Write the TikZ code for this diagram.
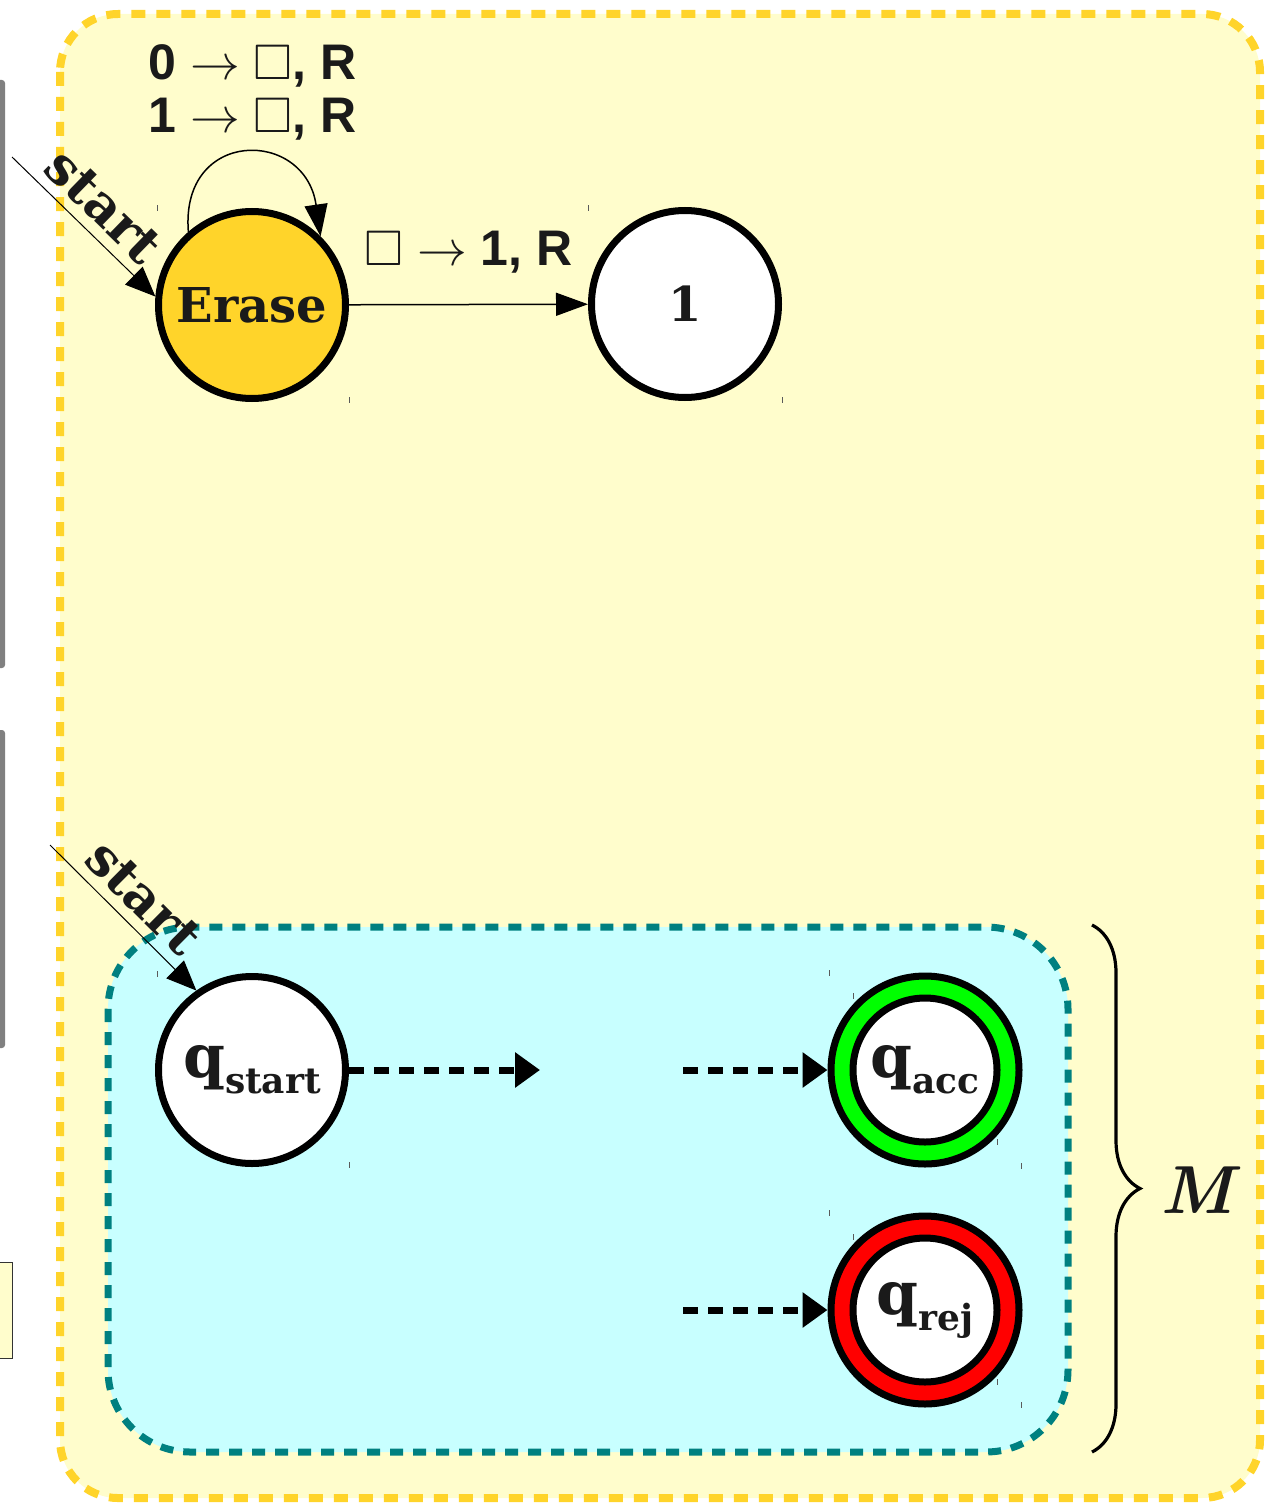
\documentclass[tikz,border=0pt]{standalone}
\usepackage{amssymb}
\usepackage{fontspec}
\setmainfont{DejaVu Serif}
\newfontfamily\labfont{Liberation Sans}
\newfontfamily\lmfont{Latin Modern Roman}
\usetikzlibrary{arrows.meta,decorations.pathreplacing}
\definecolor{bgyellow}{RGB}{255,253,204}
\definecolor{goldc}{RGB}{255,212,42}
\definecolor{cyanfill}{RGB}{200,255,255}
\definecolor{tealc}{RGB}{0,128,128}
\definecolor{inkc}{RGB}{26,26,26}
\definecolor{barc}{RGB}{128,128,128}
\definecolor{tickc}{RGB}{90,90,90}
\tikzset{
  statebox/.style={circle, draw=black, line width=3.5pt, minimum size=93.5pt, inner sep=0pt,
    text=inkc, font=\bfseries\fontsize{24}{24}\selectfont},
  innerbox/.style={statebox, fill=white, minimum size=72pt},
  thinarrow/.style={draw=black, line width=0.75pt, -{Triangle[length=16pt,width=11.5pt]}},
  startarrow/.style={draw=black, line width=0.5pt, -{Triangle[length=15pt,width=12.5pt]}},
  thickdash/.style={draw=black, line width=3.5pt, dash pattern=on 7.5pt off 5pt,
    -{Triangle[length=12.5pt,width=17pt]}},
  lab/.style={text=inkc, font=\labfont\bfseries\fontsize{25}{26.5}\selectfont, inner sep=1pt},
  startlab/.style={text=inkc, font=\bfseries\fontsize{26}{26}\selectfont, sloped, above=4pt, inner sep=1pt},
  ticks/.style={draw=tickc, line width=0.5pt},
  mstyle/.style={text=inkc, font=\lmfont\bfseries\itshape\fontsize{34}{34}\selectfont}
}
\newcommand{\qsub}[1]{q\raisebox{-8pt}{\fontsize{18}{18}\selectfont #1}}
\begin{document}
\begin{tikzpicture}[x=0.5pt,y=-0.5pt]
\useasboundingbox (0,0) rectangle (1268,1504);
% left gray bars and small box
\fill[barc, rounded corners=1.5pt] (-6,80) rectangle (5,668);
\fill[barc, rounded corners=1.5pt] (-6,730) rectangle (5,1048);
\draw[fill=bgyellow, draw=black!80, line width=0.5pt] (-6,1262) rectangle (12,1358);
% outer yellow container
\draw[fill=bgyellow, draw=goldc, line width=4pt, dash pattern=on 7pt off 5.5pt, rounded corners=29pt]
  (60,14) rectangle (1260,1498);
% cyan container
\draw[fill=cyanfill, draw=tealc, line width=3.5pt, dash pattern=on 6.5pt off 5pt, rounded corners=41pt]
  (108,927) rectangle (1068,1452);
% states
\node[statebox, fill=goldc] (erase) at (252,305) {Erase};
\node[statebox, fill=white] (one) at (685,304) {1};
\node[statebox, fill=white] (qs) at (252,1070) {\fontsize{30}{30}\selectfont\qsub{start}};
\node[statebox, fill=green, minimum size=94pt] (qa) at (925,1070) {};
\node[innerbox] (qai) at (qa.center) {\fontsize{30}{30}\selectfont\qsub{acc}};
\node[statebox, fill=red, minimum size=94pt] (qr) at (925,1310) {};
\node[innerbox] (qri) at (qr.center) {\fontsize{30}{30}\selectfont\qsub{rej}};
% start arrows
\coordinate (s1) at (12,157);
\draw[startarrow] (s1) -- node[startlab] {start} (erase.175);
\coordinate (s2) at (50,845);
\draw[startarrow] (s2) -- node[startlab] {start} (qs.125);
% loop on Erase
\draw[thinarrow] (erase.131) .. controls (180,128) and (305,128) ..
  node[pos=0.5, above=6pt, xshift=3.5pt, lab, align=center] {0 $\rightarrow\square$, R\\1 $\rightarrow\square$, R} (erase.45);
% Erase -> 1
\draw[thinarrow] (erase) -- node[pos=0.5, above=14.5pt, lab] {$\square\rightarrow$ 1, R} (one);
% dashed arrows
\coordinate (d1) at (540,1070);
\coordinate (d2) at (683,1070);
\coordinate (d3) at (683,1310);
\draw[thickdash] (qs) -- (d1);
\draw[thickdash] (d2) -- (qa);
\draw[thickdash] (d3) -- (qr);
% brace and M
\draw[black, line width=1.6pt, decorate, decoration={brace, amplitude=24pt}] (1092,925) -- (1092,1452);
\node[mstyle] (mlab) at (1197,1190) {M};
% stray tick marks
\foreach \x/\y in {157/205, 349/397, 588/205, 782/397, 157/971, 349/1162, 829/970, 853/993, 997/1139, 1021/1163, 829/1210, 853/1234, 997/1379, 1021/1402}
  \draw[ticks] (\x,\y) -- ++(0,6);
\end{tikzpicture}
\end{document}
